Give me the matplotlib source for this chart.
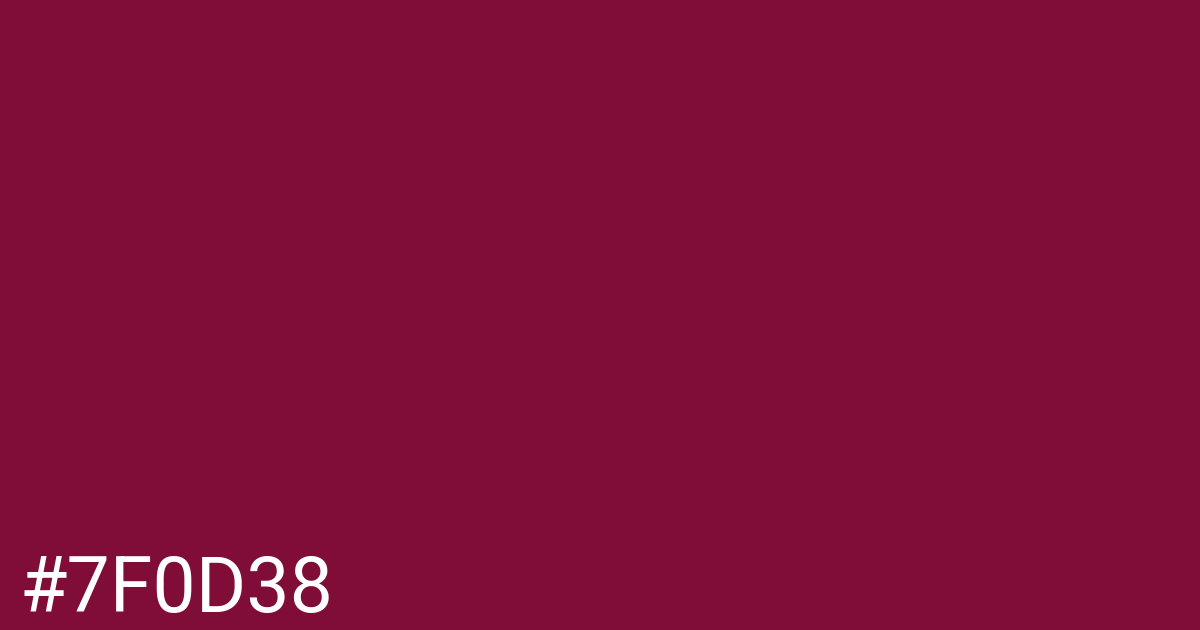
import matplotlib
matplotlib.use("Agg")
import matplotlib.pyplot as plt

hex_code = "#7F0D38"
label_text = "#7F0D38"

fig = plt.figure(figsize=(12, 6.3), dpi=100)
fig.patch.set_facecolor(hex_code)
ax = fig.add_axes([0, 0, 1, 1])
ax.set_facecolor(hex_code)
ax.set_xlim(0, 1200)
ax.set_ylim(630, 0)
ax.axis("off")

ax.text(19, 612, label_text, color="white", fontsize=77 * 72 / 100,
        family=["Roboto", "DejaVu Sans"], ha="left", va="baseline")

fig.savefig("out.png", dpi=100, facecolor=hex_code)
